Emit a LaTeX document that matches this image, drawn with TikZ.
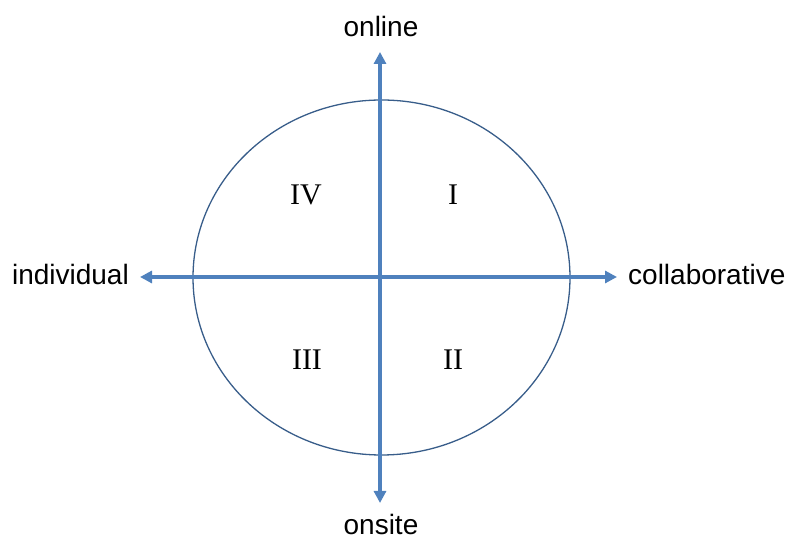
\documentclass[tikz,border=0pt]{standalone}
\usepackage{fontspec}
\setmainfont{Liberation Serif}
\newfontfamily\axisfont{Liberation Sans}
\usepackage{tikz}
\usetikzlibrary{arrows.meta}
\definecolor{axisblue}{RGB}{79,129,189}
\definecolor{rimblue}{RGB}{56,93,138}
\tikzset{
    axis/.style={line width=4pt,axisblue,-{Triangle[length=12pt,width=12pt]}},
    axislabel/.style={inner sep=0pt,font=\axisfont\fontsize{28}{30}\selectfont},
    quadrant/.style={inner sep=0pt,anchor=base,font=\fontsize{30}{32}\selectfont}
}
\begin{document}
\begin{tikzpicture}[x=1pt,y=1pt]
        \useasboundingbox (0,0) rectangle (792,540);
        \coordinate (o) at (380,263);
        \draw[rimblue,line width=1.3pt] (381.5,262.5) ellipse (188.5 and 177.5);

        % axis ends
        \coordinate (up) at (380,488);
        \coordinate (down) at (380,37);
        \coordinate (left) at (140,263);
        \coordinate (right) at (617,263);
        \draw[axis] (o) -- (up);
        \draw[axis] (o) -- (down);
        \draw[axis] (o) -- (left);
        \draw[axis] (o) -- (right);

        \node[axislabel,anchor=base] (online) at (381,503) {online};
        \node[axislabel,anchor=base] (onsite) at (381,5) {onsite};
        \node[axislabel,anchor=base east] (individual) at (129,255) {individual};
        \node[axislabel,anchor=base west] (collab) at (628,255) {collaborative};

        \node[quadrant] (q1) at (453,335) {I};
        \node[quadrant] (q2) at (453,170) {II};
        \node[quadrant] (q3) at (307,170) {III};
        \node[quadrant] (q4) at (306,335) {IV};
\end{tikzpicture}
\end{document}
